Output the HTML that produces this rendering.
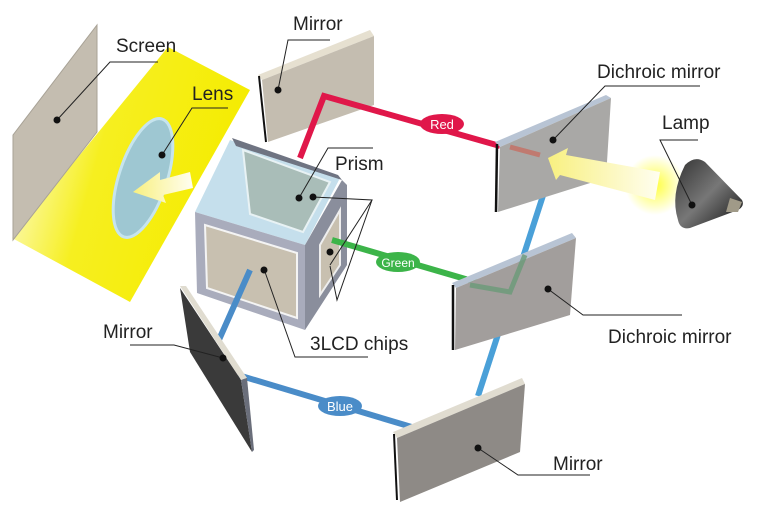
<!DOCTYPE html>
<html><head><style>body{margin:0;background:#fff}svg{display:block}text{font-family:"Liberation Sans",sans-serif}</style></head><body>
<svg width="770" height="510" viewBox="0 0 770 510" xmlns="http://www.w3.org/2000/svg">
<defs>
<linearGradient id="yg" x1="0" y1="0" x2="1" y2="0.3"><stop offset="0" stop-color="#fff"/><stop offset="0.45" stop-color="#f6ef20"/><stop offset="1" stop-color="#f5ec00"/></linearGradient>
<linearGradient id="ag" x1="1" y1="0" x2="0" y2="0"><stop offset="0" stop-color="#fffef0"/><stop offset="1" stop-color="#f8f080"/></linearGradient>
<radialGradient id="lg" cx="0.5" cy="0.5" r="0.5"><stop offset="0" stop-color="#ffff40"/><stop offset="1" stop-color="#ffff40" stop-opacity="0"/></radialGradient>
<linearGradient id="lamp" x1="0" y1="0" x2="1" y2="1"><stop offset="0" stop-color="#333"/><stop offset="0.5" stop-color="#777"/><stop offset="1" stop-color="#111"/></linearGradient>
</defs>
<polygon points="168,47 250,90 130,302 12,238" fill="url(#yg)"/>
<polygon points="13,135 97,25 97,132 13,240" fill="#c4bdb0" stroke="#a8a296" stroke-width="1"/>
<ellipse cx="143" cy="178" rx="24" ry="62" transform="rotate(18 143 178)" fill="#9ec7d2" stroke="#c6e4ee" stroke-width="3"/>
<polygon points="190,172 160,180 160,172 133,192 166,203 163,195 193,188" fill="url(#ag)"/>
<polygon points="258,75 370,30 374,36 262,80" fill="#e6e0d0"/>
<polygon points="262,80 374,36 374,105 268,142" fill="#c4bdb0"/>
<line x1="259" y1="76" x2="266" y2="142" stroke="#111" stroke-width="2"/>
<polyline points="300,158 324,96 500,146" fill="none" stroke="#e0174a" stroke-width="6"/>
<ellipse cx="442" cy="124" rx="22" ry="10" fill="#e0174a"/><text x="442" y="129" font-size="13" fill="#fff" text-anchor="middle">Red</text>
<polygon points="230,140 340,178 305,245 195,212" fill="#c5dfec"/>
<polygon points="232,138 338,175 342,180 236,146" fill="#6f7482"/>
<polygon points="243,150 330,182 303,232 250,214" fill="#a9bdb8" stroke="#e8f2f4" stroke-width="2"/>
<polygon points="305,245 342,180 347,185 347,265 305,330" fill="#8a8e9c"/>
<polygon points="320,245 340,210 340,265 320,295" fill="#c8c0b0" stroke="#eee" stroke-width="2"/>
<polygon points="195,212 305,245 305,330 197,293" fill="#a9acbc"/>
<polygon points="205,225 297,253 297,318 207,288" fill="#c8c0b0" stroke="#f4f4f4" stroke-width="2"/>
<line x1="332" y1="240" x2="510" y2="292" stroke="#3cb449" stroke-width="6"/>
<ellipse cx="398" cy="262" rx="22" ry="10" fill="#3cb449"/><text x="398" y="267" font-size="12" fill="#fff" text-anchor="middle">Green</text>
<polyline points="250,270 218,342" fill="none" stroke="#4a8cc8" stroke-width="6"/>
<line x1="238" y1="375" x2="415" y2="428" stroke="#4a8cc8" stroke-width="6"/>
<ellipse cx="340" cy="406" rx="22" ry="10" fill="#4a8cc8"/><text x="340" y="411" font-size="13" fill="#fff" text-anchor="middle">Blue</text>
<line x1="478" y1="396" x2="550" y2="174" stroke="#4aa0d8" stroke-width="6"/>
<polygon points="495,142 606,95 611,98 500,147" fill="#b8c4d4"/>
<polygon points="500,147 611,98 606,178 498,212" fill="#a9a8a6"/>
<line x1="497" y1="144" x2="496" y2="212" stroke="#111" stroke-width="2.5"/>
<line x1="510" y1="147" x2="540" y2="155" stroke="#c07a70" stroke-width="5"/>
<polygon points="452,283 572,233 576,238 456,288" fill="#b8c4d4"/>
<polygon points="456,288 576,238 570,315 455,350" fill="#a29e9c"/>
<line x1="453" y1="285" x2="453" y2="350" stroke="#111" stroke-width="2.5"/>
<polyline points="470,285 510,292 525,255" fill="none" stroke="#6a9a78" stroke-width="5" opacity="0.8"/>
<ellipse cx="655" cy="185" rx="30" ry="30" fill="url(#lg)"/>
<polygon points="548,158 568,148 566,155 660,172 655,200 560,175 556,180" fill="url(#ag)"/>
<path d="M685,165 Q695,155 705,162 L742,200 Q745,206 738,210 L690,228 Q680,230 678,220 Q670,195 685,165 Z" fill="url(#lamp)"/>
<polygon points="730,198 742,202 738,212 726,212" fill="#a09a88"/>
<polygon points="180,286 186,286 247,378 241,380" fill="#e0dcd0"/>
<polygon points="180,288 241,380 252,452 190,352" fill="#3a3a3a"/>
<polygon points="241,380 247,378 254,450 252,452" fill="#6a6e7a"/>
<polygon points="393,432 522,378 525,384 397,438" fill="#e0dcd0"/>
<polygon points="397,438 525,384 520,452 400,502" fill="#8e8a86"/>
<line x1="394" y1="434" x2="397" y2="500" stroke="#111" stroke-width="2"/>
<g fill="none" stroke="#222" stroke-width="1">
<polyline points="158,62 110,62 57,120"/>
<polyline points="228,108 192,108 162,155"/>
<polyline points="330,40 288,40 278,90"/>
<polyline points="373,148 328,148 299,198"/>
<polyline points="313,197 372,200 330,265"/>
<polyline points="372,200 337,300 330,266"/>
<polyline points="700,86 605,86 553,140"/>
<polyline points="698,140 660,140 692,205"/>
<polyline points="682,315 583,315 548,289"/>
<polyline points="590,475 518,475 478,448"/>
<polyline points="130,345 174,345 223,358"/>
<polyline points="265,272 295,357 368,357"/>
</g>
<g fill="#111">
<circle cx="57" cy="120" r="3.5"/><circle cx="162" cy="155" r="3.5"/><circle cx="278" cy="90" r="3.5"/>
<circle cx="299" cy="198" r="3.5"/><circle cx="313" cy="197" r="3.5"/><circle cx="330" cy="252" r="3.5"/>
<circle cx="264" cy="270" r="3.5"/><circle cx="553" cy="140" r="3.5"/><circle cx="692" cy="205" r="3.5"/>
<circle cx="548" cy="289" r="3.5"/><circle cx="478" cy="448" r="3.5"/><circle cx="223" cy="358" r="3.5"/>
</g>
<g font-size="19" fill="#222">
<text x="116" y="52">Screen</text>
<text x="192" y="100">Lens</text>
<text x="293" y="30">Mirror</text>
<text x="335" y="170">Prism</text>
<text x="310" y="350">3LCD chips</text>
<text x="103" y="338">Mirror</text>
<text x="597" y="78">Dichroic mirror</text>
<text x="662" y="129">Lamp</text>
<text x="608" y="343">Dichroic mirror</text>
<text x="553" y="470">Mirror</text>
</g>
</svg>
</body></html>
